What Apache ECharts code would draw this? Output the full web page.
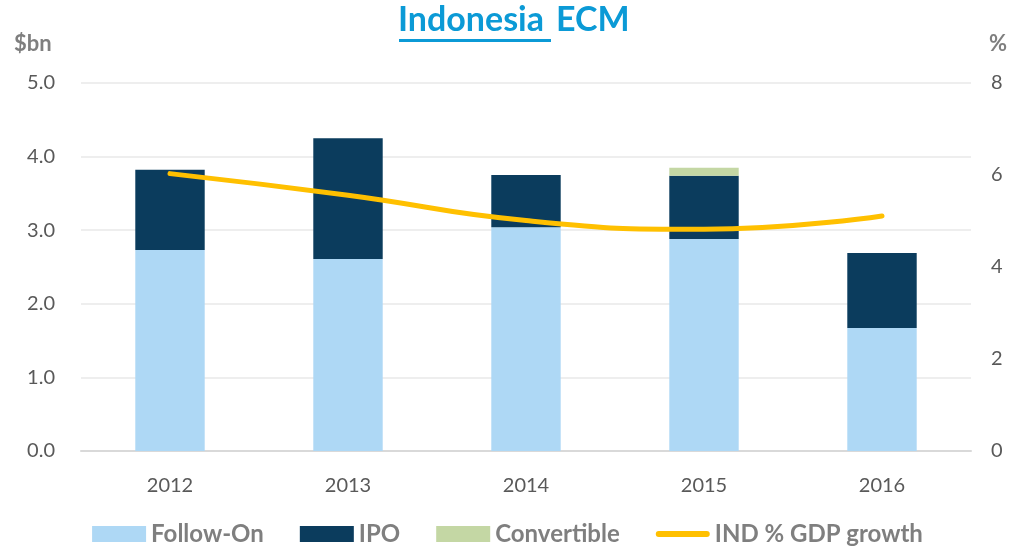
<!DOCTYPE html>
<html><head><meta charset="utf-8">
<script src="https://cdn.jsdelivr.net/npm/echarts@6/dist/echarts.min.js"></script>
<style>html,body{margin:0;padding:0;background:#fff}#c{width:1015px;height:551px}</style>
</head><body><div id="c"></div>
<script>
const years = ['2012','2013','2014','2015','2016'];
const followOn = [2.73, 2.61, 3.04, 2.88, 1.67];
const ipo = [1.09, 1.64, 0.71, 0.86, 1.02];
const convertible = [0, 0, 0, 0.11, 0];
const gdpGrowth = [6.03, 5.56, 5.01, 4.82, 5.11];
const leftTicks = {min: 0, max: 5, interval: 1};
const rightTicks = {min: 0, max: 8, interval: 2};

const FONT = 'Lato, "Open Sans", sans-serif';
const chart = echarts.init(document.getElementById('c'));
chart.setOption({
  animation: false,
  textStyle: {fontFamily: FONT},
  graphic: [
    {type: 'text', left: 398, top: 3, style: {text: 'Indonesia', font: 'bold 34px ' + FONT, fill: '#0B9AD6'}},
    {type: 'text', left: 556, top: 3, style: {text: 'ECM', font: 'bold 34px ' + FONT, fill: '#0B9AD6'}},
    {type: 'rect', shape: {x: 399, y: 39, width: 152, height: 3}, style: {fill: '#0B9AD6'}},
    {type: 'text', left: 14, top: 33, style: {text: '$bn', font: 'bold 22px ' + FONT, fill: '#7F7F7F'}},
    {type: 'text', left: 989, top: 33, style: {text: '%', font: 'bold 22px ' + FONT, fill: '#7F7F7F'}}
  ],
  grid: {left: 81, right: 44, top: 83, bottom: 100},
  legend: {
    bottom: 0, left: 'center',
    itemWidth: 54, itemHeight: 16, itemGap: 36,
    textStyle: {fontSize: 24, fontWeight: 'bold', color: '#7F7F7F', fontFamily: FONT},
    data: [
      {name: 'Follow-On', icon: 'rect'},
      {name: 'IPO', icon: 'rect'},
      {name: 'Convertible', icon: 'rect'},
      {name: 'IND % GDP growth', icon: 'path://M3,0 L51,0 A3,3 0 0 1 51,6 L3,6 A3,3 0 0 1 3,0 Z'}
    ]
  },
  xAxis: {
    type: 'category', data: years,
    axisLine: {lineStyle: {color: '#D9D9D9', width: 2}},
    axisTick: {show: false},
    axisLabel: {fontSize: 20, color: '#595959', margin: 25}
  },
  yAxis: [
    {type: 'value', min: leftTicks.min, max: leftTicks.max, interval: leftTicks.interval,
     axisLabel: {fontSize: 20, color: '#595959', margin: 26, formatter: v => v.toFixed(1)},
     splitLine: {lineStyle: {color: '#EEEEEE', width: 2}},
     axisLine: {show: false}, axisTick: {show: false}},
    {type: 'value', min: rightTicks.min, max: rightTicks.max, interval: rightTicks.interval,
     position: 'right',
     axisLabel: {fontSize: 20, color: '#595959', margin: 20},
     splitLine: {show: false}, axisLine: {show: false}, axisTick: {show: false}}
  ],
  series: [
    {name: 'Follow-On', type: 'bar', stack: 'a', data: followOn, barWidth: '39%', itemStyle: {color: '#AED8F5'}},
    {name: 'IPO', type: 'bar', stack: 'a', data: ipo, itemStyle: {color: '#0B3C5D'}},
    {name: 'Convertible', type: 'bar', stack: 'a', data: convertible, itemStyle: {color: '#C4D7A4'}},
    {name: 'IND % GDP growth', type: 'line', yAxisIndex: 1, data: gdpGrowth, smooth: 0.5,
     symbol: 'none', lineStyle: {color: '#FFC000', width: 5, cap: 'round'}, itemStyle: {color: '#FFC000'}}
  ]
});
</script></body></html>
